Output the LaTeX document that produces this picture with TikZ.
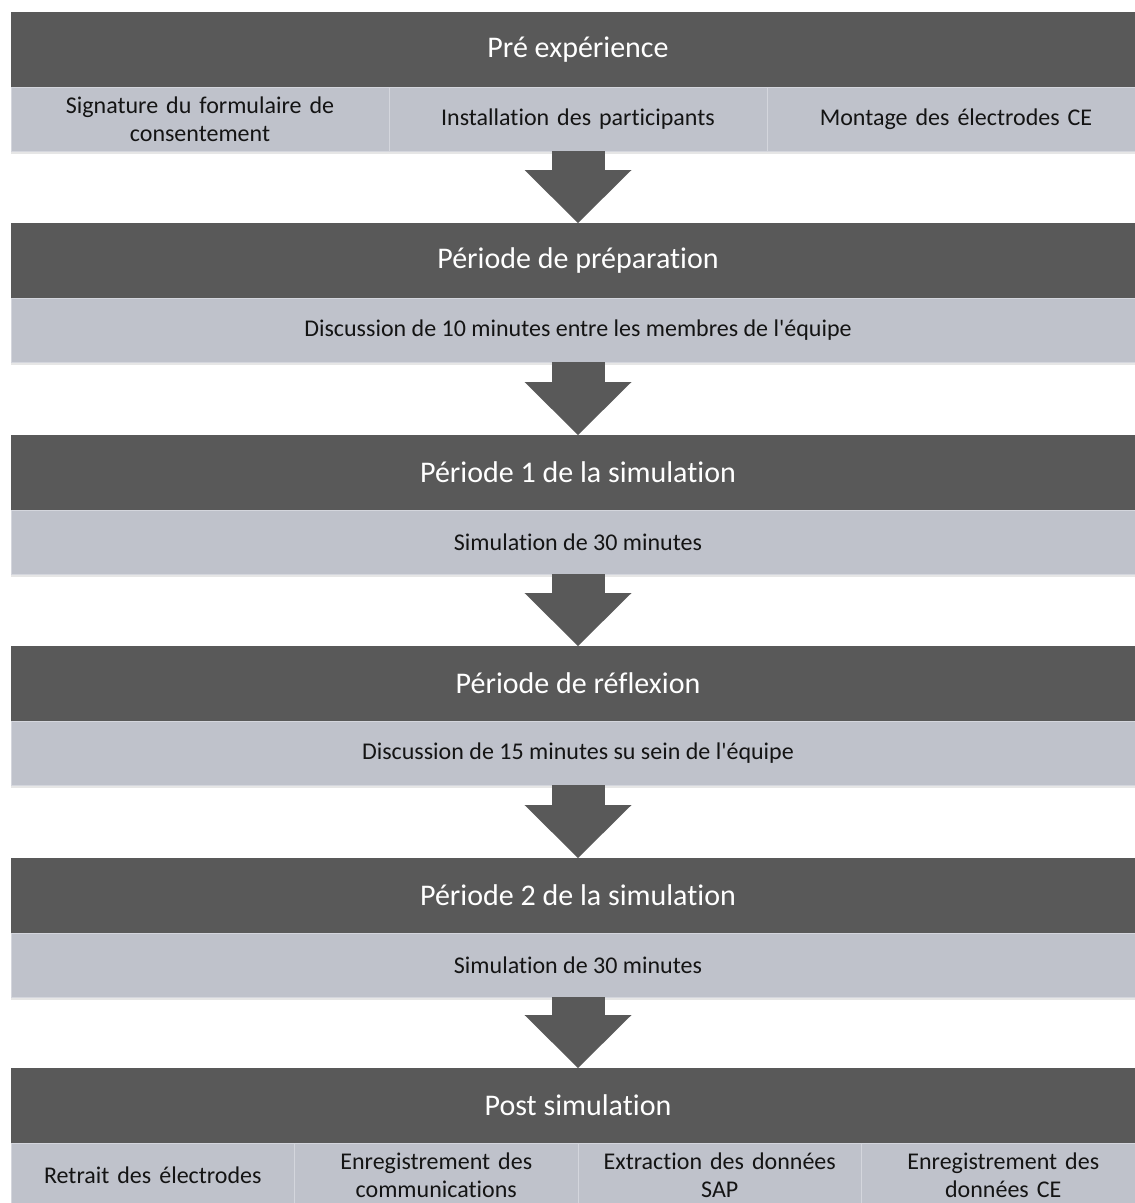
\documentclass[tikz,border=0pt]{standalone}
\usepackage{fontspec}
\setmainfont[Ligatures={NoCommon}]{Carlito}
\usepackage{tikz}
\usetikzlibrary{arrows.meta,positioning,shadows}

\definecolor{hdrgray}{RGB}{89,89,89}
\definecolor{cellgray}{RGB}{191,194,203}
\definecolor{cellline}{RGB}{212,214,221}
\definecolor{txtgray}{RGB}{20,20,20}

\begin{document}
\begin{tikzpicture}[x=1pt, y=-1pt,
  phase/.style={rectangle, anchor=north west, inner sep=0pt, outer sep=0pt,
    minimum width=1134pt, minimum height=75pt, fill=hdrgray, text=white,
    font=\fontsize{30}{36}\selectfont,
    drop shadow={shadow xshift=0pt, shadow yshift=-3pt, opacity=.2}},
  task/.style={rectangle, anchor=north west, inner sep=0pt, outer sep=0pt,
    minimum height=64pt, fill=cellgray, draw=cellline, line width=1pt,
    text=txtgray, align=center, font=\fontsize{24}{28}\selectfont,
    drop shadow={shadow xshift=0pt, shadow yshift=-3pt, opacity=.2}},
  flow/.style={draw=hdrgray, line width=53pt,
    -{Triangle[width=107pt, length=53pt, line width=0pt]}}]

  \useasboundingbox (0,0) rectangle (1135,1203);

  % Pre experience
  \node[phase] (pre) at (11,12) {Pré expérience};
  \node[task, minimum width=378pt, text width=360pt] (pre1) at (11,87) {Signature du formulaire de\\consentement};
  \node[task, minimum width=378pt, text width=360pt] (pre2) at (389,87) {Installation des participants};
  \node[task, minimum width=378pt, text width=360pt] (pre3) at (767,87) {Montage des électrodes CE};

  % Preparation
  \node[phase] (prep) at (11,223) {Période de préparation};
  \node[task, minimum width=1134pt] (prep1) at (11,298) {Discussion de 10 minutes entre les membres de l\textquotesingle équipe};

  % Simulation 1
  \node[phase] (sim1) at (11,435) {Période 1 de la simulation};
  \node[task, minimum width=1134pt] (sim11) at (11,510) {Simulation de 30 minutes};

  % Reflexion
  \node[phase] (refl) at (11,646) {Période de réflexion};
  \node[task, minimum width=1134pt] (refl1) at (11,721) {Discussion de 15 minutes su sein de l\textquotesingle équipe};

  % Simulation 2
  \node[phase] (sim2) at (11,858) {Période 2 de la simulation};
  \node[task, minimum width=1134pt] (sim21) at (11,933) {Simulation de 30 minutes};

  % Post simulation
  \node[phase] (post) at (11,1068) {Post simulation};
  \node[task, minimum width=283.5pt, text width=270pt] (post1) at (11,1143) {Retrait des électrodes};
  \node[task, minimum width=283.5pt, text width=270pt] (post2) at (294.5,1143) {Enregistrement des\\communications};
  \node[task, minimum width=283.5pt, text width=270pt] (post3) at (578,1143) {Extraction des données\\SAP};
  \node[task, minimum width=283.5pt, text width=270pt] (post4) at (861.5,1143) {Enregistrement des\\données CE};

  % Arrows
  \draw[flow] (pre2.south) -- (prep.north);
  \draw[flow] (prep1.south) -- (sim1.north);
  \draw[flow] (sim11.south) -- (refl.north);
  \draw[flow] (refl1.south) -- (sim2.north);
  \draw[flow] (sim21.south) -- (post.north);

\end{tikzpicture}
\end{document}
